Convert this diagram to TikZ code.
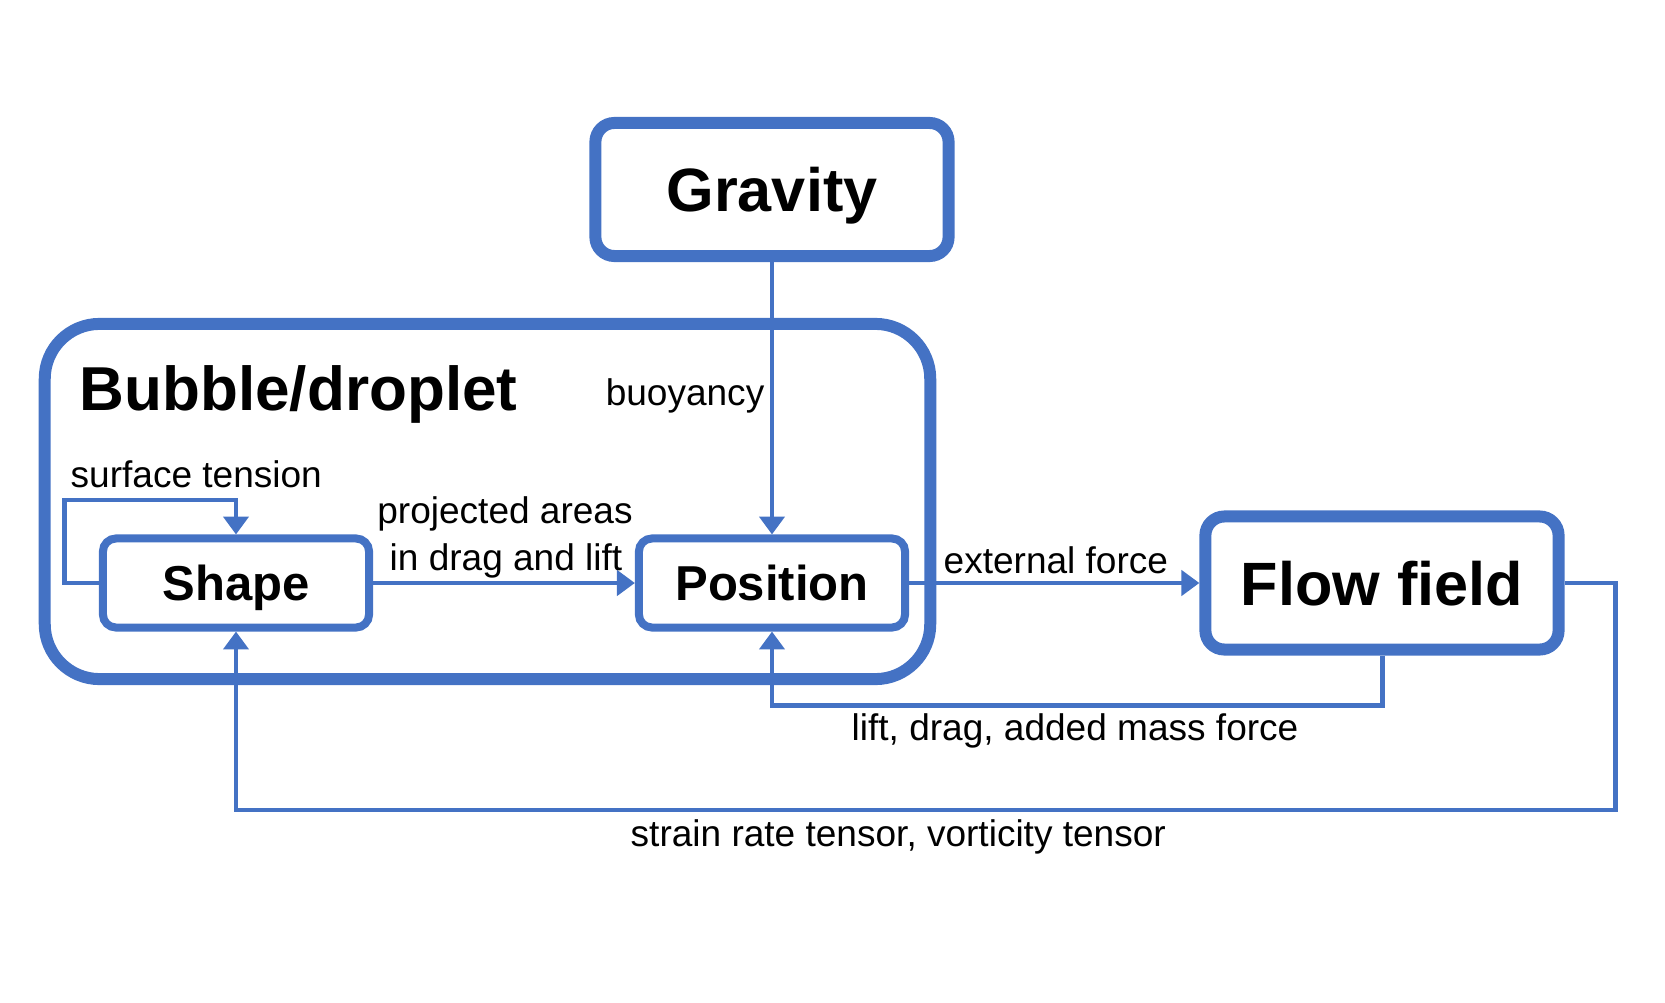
\documentclass[tikz,border=0pt]{standalone}
\usepackage{fontspec}
\setmainfont{Liberation Sans}
\usetikzlibrary{arrows.meta}
\definecolor{flowblue}{HTML}{4472C4}
\pgfdeclarelayer{bg}
\pgfsetlayers{bg,main}

\begin{document}
\begin{tikzpicture}[x=0.01cm, y=-0.01cm,
    box/.style={draw=flowblue, fill=white, line width=2.28pt, rounded corners=3.7pt, inner sep=0pt, text depth=0pt, font=\fontsize{13.94pt}{16pt}\selectfont\bfseries, minimum width=2.66cm, minimum height=0.89cm},
    bigbox/.style={box, line width=3.41pt, rounded corners=5.4pt, font=\fontsize{17.4pt}{20pt}\selectfont\bfseries, minimum width=3.53cm, minimum height=1.33cm},
    txt/.style={anchor=base west, inner sep=0pt, font=\fontsize{10.53pt}{12pt}\selectfont},
    link/.style={draw=flowblue, line width=1.42pt, -{Triangle[length=5.1pt, width=7.1pt]}}]
    \useasboundingbox (0,0) rectangle (1665,1003);

    \node (bubble) [draw=flowblue, line width=3.41pt, rounded corners=15.6pt, minimum width=8.85cm, minimum height=3.55cm] at (487.5, 501.5) {};
    \node (title) [txt, font=\fontsize{17.64pt}{20pt}\selectfont\bfseries] at (79, 410) {Bubble/droplet};

    \node (gravity) [bigbox] at (772, 189.5) {Gravity};
    \node (shape) [box] at (236, 583) {Shape};
    \node (position) [box] at (772, 583) {Position};
    \node (flow) [bigbox] at (1382, 583) {Flow field};

    \node (buoy) [txt, anchor=base east] at (765, 405) {buoyancy};
    \node (tension) [txt] at (70, 488) {surface tension};
    \node (proj1) [txt, anchor=base] at (505, 523) {projected areas};
    \node (proj2) [txt, anchor=base] at (506, 570) {in drag and lift};
    \node (ext) [txt] at (943, 573) {external force};
    \node (lift) [txt] at (851, 740) {lift, drag, added mass force};
    \node (strain) [txt] at (630, 846) {strain rate tensor, vorticity tensor};

    \begin{pgfonlayer}{bg}
        \draw[link] (gravity.south) -- (position.north);
        \draw[link] (shape.east) -- (position.west);
        \draw[link] (position.east) -- (flow.west);
        \draw[link] (shape.west) -- ++(-34,0) -- ++(0,-83) -| (shape.north);
        \draw[link] (flow.south) -- ++(0,50) -| (position.south);
        \draw[link] (flow.east) -- ++(51,0) -- ++(0,227) -| (shape.south);
    \end{pgfonlayer}
\end{tikzpicture}
\end{document}
